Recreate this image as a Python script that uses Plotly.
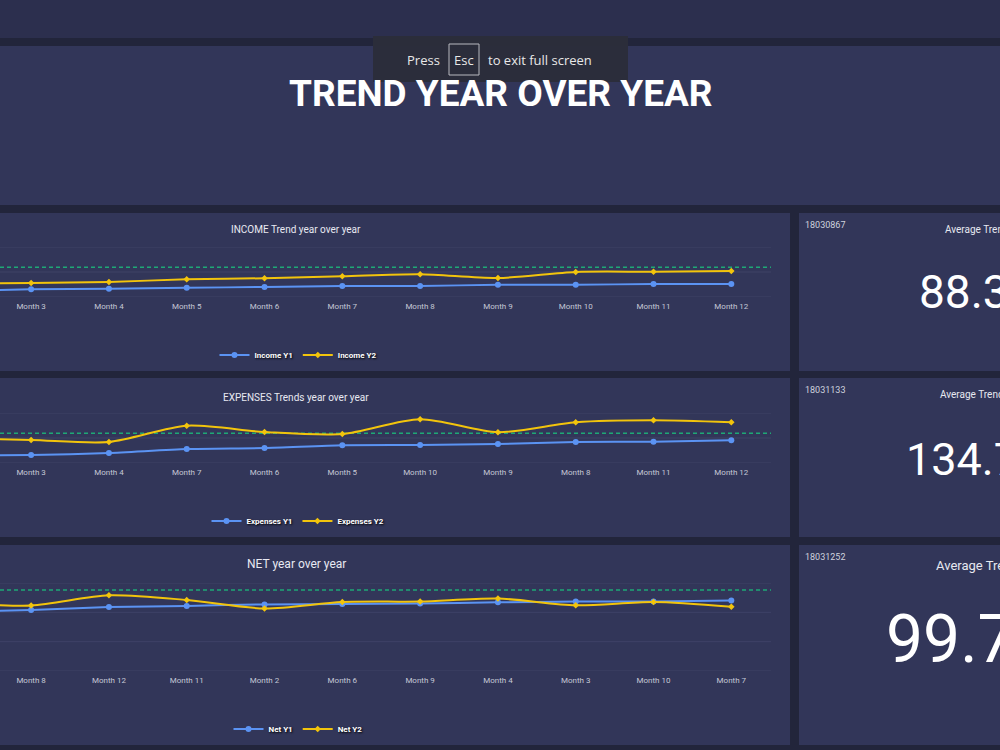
import plotly.graph_objects as go

# ---------------- data ----------------
income_months = ["Month 1", "Month 2", "Month 3", "Month 4", "Month 5", "Month 6",
                 "Month 7", "Month 8", "Month 9", "Month 10", "Month 11", "Month 12"]
income_y1 = [20, 24, 31, 33, 37, 40, 44, 44, 49, 49, 52, 52]
income_y2 = [50, 53, 56, 60, 71, 75, 83, 91, 76, 100, 101, 104]
income_mark = 119

expenses_months = ["Month 1", "Month 2", "Month 3", "Month 4", "Month 7", "Month 6",
                   "Month 5", "Month 10", "Month 9", "Month 8", "Month 11", "Month 12"]
expenses_y1 = [28, 30, 32, 40, 56, 60, 71, 72, 76, 84, 85, 91]
expenses_y2 = [102, 98, 92, 84, 149, 124, 116, 175, 123, 163, 171, 163]
expenses_mark = 119

net_months = ["Month 1", "Month 5", "Month 8", "Month 12", "Month 11", "Month 2",
              "Month 6", "Month 9", "Month 4", "Month 3", "Month 10", "Month 7"]
net_y1 = [0, 3, 8, 18, 22, 27, 28, 30, 34, 37, 37, 40]
net_y2 = [28, 31, 23, 58, 42, 13, 35, 37, 47, 24, 35, 19]
net_mark = 76

y_grid_income = [0, 100, 200]
y_grid_expenses = [0, 100, 200]
y_grid_net = [-200, -100, 0, 100]

card_ids = ["18030867", "18031133", "18031252"]
card_values = ["88.3", "134.7", "99.7"]
card_title = "Average Trend"

# ---------------- styles ----------------
W, H = 1000, 750
BG = "#22253b"
TOPBAR = "#2c2f4e"
PANEL = "#323659"
BLUE = "#5b93f3"
YELLOW = "#f2c40c"
GREEN = "#1ea876"
GRID = "#3e4267"
TICK = "#c5c8d6"
FONT = "Roboto"


def px_x(x):
    return x / W


def px_y(y):
    return 1 - y / H


fig = go.Figure()

charts = [
    dict(months=income_months, y1=income_y1, y2=income_y2, mark=income_mark, grid=y_grid_income,
         names=("Income Y1", "Income Y2"), top=247, bottom=297, yrange=[0, 200],
         title="INCOME Trend year over year", title_y=230, title_size=10, legend_y=355),
    dict(months=expenses_months, y1=expenses_y1, y2=expenses_y2, mark=expenses_mark, grid=y_grid_expenses,
         names=("Expenses Y1", "Expenses Y2"), top=413, bottom=463, yrange=[0, 200],
         title="EXPENSES Trends year over year", title_y=397, title_size=10, legend_y=521),
    dict(months=net_months, y1=net_y1, y2=net_y2, mark=net_mark, grid=y_grid_net,
         names=("Net Y1", "Net Y2"), top=583, bottom=671, yrange=[-200, 100],
         title="NET year over year", title_y=564, title_size=12, legend_y=729),
]

annotations = []
shapes = []


def rect(x0, y0, x1, y1, color, layer="below", line=None):
    d = dict(type="rect", xref="paper", yref="paper",
             x0=px_x(x0), x1=px_x(x1), y0=px_y(y1), y1=px_y(y0),
             fillcolor=color, layer=layer, line=dict(width=0))
    if line:
        d["line"] = line
    shapes.append(d)


# background panels
rect(0, 0, 1000, 38, TOPBAR)
rect(0, 46, 1000, 205, PANEL)
rect(-10, 213, 790, 371, PANEL)
rect(799, 213, 1010, 371, PANEL)
rect(-10, 378, 790, 537, PANEL)
rect(799, 378, 1010, 537, PANEL)
rect(-10, 545, 790, 745, PANEL)
rect(799, 545, 1010, 745, PANEL)

layout_axes = {}
for i, c in enumerate(charts, start=1):
    xa = "x" if i == 1 else f"x{i}"
    ya = "y" if i == 1 else f"y{i}"
    lg = "legend" if i == 1 else f"legend{i}"
    fig.add_trace(go.Scatter(
        x=c["months"], y=c["y1"], name=c["names"][0], mode="lines+markers",
        line=dict(color=BLUE, width=2, shape="spline", smoothing=0.6),
        marker=dict(symbol="circle", size=6, color=BLUE),
        xaxis=xa, yaxis=ya, legend=lg))
    fig.add_trace(go.Scatter(
        x=c["months"], y=c["y2"], name=c["names"][1], mode="lines+markers",
        line=dict(color=YELLOW, width=2, shape="spline", smoothing=0.8),
        marker=dict(symbol="diamond", size=5, color=YELLOW),
        xaxis=xa, yaxis=ya, legend=lg))
    # horizontal grid lines
    for gv in c["grid"]:
        shapes.append(dict(type="line", xref=f"{xa} domain", yref=ya,
                           x0=0, x1=1, y0=gv, y1=gv,
                           line=dict(color=GRID, width=1), layer="below"))
    # dashed mark line
    shapes.append(dict(type="line", xref=f"{xa} domain", yref=ya,
                       x0=0, x1=1, y0=c["mark"], y1=c["mark"],
                       line=dict(color=GREEN, width=1.5, dash="4px,3px"), layer="below"))
    xkey = "xaxis" if i == 1 else f"xaxis{i}"
    ykey = "yaxis" if i == 1 else f"yaxis{i}"
    layout_axes[xkey] = dict(
        domain=[0, px_x(771)], anchor=ya, type="category",
        categoryorder="array", categoryarray=c["months"],
        range=[1.6, 11.51], showgrid=False, zeroline=False, showline=False,
        ticks="", tickfont=dict(family=FONT, size=8, color=TICK),
        ticklabelstandoff=3, fixedrange=True)
    layout_axes[ykey] = dict(
        domain=[px_y(c["bottom"]), px_y(c["top"])], anchor=xa,
        range=c["yrange"], showticklabels=False, showgrid=False,
        zeroline=False, showline=False, fixedrange=True)
    layout_axes[lg] = dict(
        orientation="h", x=px_x(298), xanchor="center", y=px_y(c["legend_y"]),
        yanchor="middle", bgcolor="rgba(0,0,0,0)", itemwidth=30,
        font=dict(family=FONT, size=8, color="#ffffff", weight="bold",
                  shadow="1px 1px 2px #000000"))
    annotations.append(dict(
        text=c["title"], xref="paper", yref="paper", x=px_x(296), y=px_y(c["title_y"]),
        xanchor="center", yanchor="middle", showarrow=False,
        font=dict(family=FONT, size=c["title_size"], color="#e8e9f2")))

# cards
card_tops = [213, 378, 545]
title_x = [943, 938, 934]
title_y = [229, 395, 565]
title_size = [10, 10, 13]
value_x = [917, 904, 884]
value_y = [292, 459, 639]
value_size = [46, 45, 66]
for k in range(3):
    annotations.append(dict(
        text=card_ids[k], xref="paper", yref="paper", x=px_x(803), y=px_y(card_tops[k] + 12),
        xanchor="left", yanchor="middle", showarrow=False,
        font=dict(family=FONT, size=9, color="#cfd2de")))
    annotations.append(dict(
        text=card_title, xref="paper", yref="paper", x=px_x(title_x[k]), y=px_y(title_y[k]),
        xanchor="left", yanchor="middle", showarrow=False,
        font=dict(family=FONT, size=title_size[k], color="#e6e8f0")))
    annotations.append(dict(
        text=card_values[k], xref="paper", yref="paper", x=px_x(value_x[k]), y=px_y(value_y[k]),
        xanchor="left", yanchor="middle", showarrow=False,
        font=dict(family=FONT, size=value_size[k], color="#ffffff")))

# page title
annotations.append(dict(
    text="TREND YEAR OVER YEAR", xref="paper", yref="paper", x=px_x(501), y=px_y(93),
    xanchor="center", yanchor="middle", showarrow=False,
    font=dict(family=FONT, size=37, color="#ffffff", weight="bold")))

# full-screen notice overlay
rect(373, 36, 628, 82, "rgba(43,45,58,0.97)", layer="above")
shapes.append(dict(type="rect", xref="paper", yref="paper",
                   x0=px_x(449), x1=px_x(479), y0=px_y(75), y1=px_y(44),
                   line=dict(color="#b9bac0", width=1), fillcolor="rgba(0,0,0,0)", layer="above"))
annotations.append(dict(text="Press", xref="paper", yref="paper", x=px_x(442), y=px_y(60),
                        xanchor="right", yanchor="middle", showarrow=False,
                        font=dict(family="Open Sans", size=13, color="#e8e8e8")))
annotations.append(dict(text="Esc", xref="paper", yref="paper", x=px_x(464), y=px_y(60),
                        xanchor="center", yanchor="middle", showarrow=False,
                        font=dict(family="Open Sans", size=13, color="#e8e8e8")))
annotations.append(dict(text="to exit full screen", xref="paper", yref="paper", x=px_x(486), y=px_y(60),
                        xanchor="left", yanchor="middle", showarrow=False,
                        font=dict(family="Open Sans", size=13, color="#e8e8e8")))

fig.update_layout(
    width=W, height=H, margin=dict(l=0, r=0, t=0, b=0),
    paper_bgcolor=BG, plot_bgcolor="rgba(0,0,0,0)",
    shapes=shapes, annotations=annotations, showlegend=True,
    hovermode=False,
    **layout_axes,
)

fig.write_html("out.html", config={"displayModeBar": False})
